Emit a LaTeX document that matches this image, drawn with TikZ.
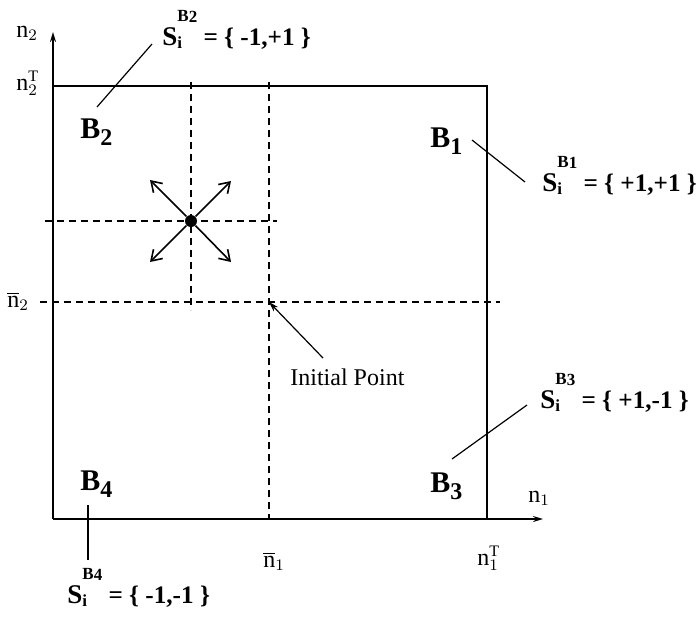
\documentclass[tikz,border=0pt]{standalone}
\usepackage{fontspec}
\setmainfont{Liberation Serif}
\usetikzlibrary{positioning,arrows.meta}

% sign vector S_i^{B_k} = {..}
\newcommand{\svec}[2]{{\fontsize{13.5}{14}\selectfont S}%
  \rlap{\fontsize{8.5}{9}\selectfont\raisebox{-1.5pt}{i}}%
  \raisebox{12pt}{\fontsize{8.5}{9}\selectfont B\raisebox{-0.8pt}{#1}}%
  {\fontsize{12.6}{13}\selectfont\ = \{ #2 \}}}
% region label B_k
\newcommand{\rlab}[1]{B\raisebox{-3.5pt}{\fontsize{12}{12}\selectfont #1}}

\begin{document}
\begin{tikzpicture}[x=0.5pt,y=-0.5pt,
    every node/.style={inner sep=0pt,anchor=base west,font=\fontsize{12}{13}\selectfont},
    axis/.style={line width=0.8pt,-{Stealth[length=5pt,width=3pt]}},
    frame/.style={line width=0.8pt},
    gline/.style={line width=0.6pt,dash pattern=on 3.5pt off 2.5pt},
    leader/.style={line width=0.6pt},
    move/.style={line width=0.8pt,-{Straight Barb[length=5pt,width=6.5pt]}},
    region/.style={font=\fontsize{15}{16}\selectfont\bfseries},
    sign/.style={font=\bfseries},
  ]
  \useasboundingbox (0,0) rectangle (696,617);

  % axes and the box
  \coordinate (O)  at (53,519);
  \coordinate (ye) at (53,32);
  \coordinate (xe) at (543,519);
  \coordinate (tl) at (53,86);
  \coordinate (tr) at (487,86);
  \coordinate (br) at (487,519);

  % dashed grid lines
  \draw[gline] (191,82) -- (191,310);
  \draw[gline] (269,82) -- (269,519);
  \draw[gline] (45,221) -- (277,221);
  \draw[gline] (40,302) -- (500,302);

  \draw[frame] (tl) -- (tr) -- (br);
  \draw[axis] (O) -- (ye);
  \draw[axis] (O) -- (xe);

  % axis labels
  \node (n2)  at (16,37)  {n$_2$};
  \node (n2T) at (16,90)  {n$_2^{\mathrm{T}}$};
  \node (n2b) at (7,307)  {$\overline{\mathrm{n}}_2$};
  \node (n1)  at (528,502) {n$_1$};
  \node (n1T) at (477,565) {n$_1^{\mathrm{T}}$};
  \node (n1b) at (263,567) {$\overline{\mathrm{n}}_1$};

  % region labels
  \node[region] (B2) at (80,138)  {\rlab{2}};
  \node[region] (B1) at (430,147) {\rlab{1}};
  \node[region] (B3) at (430,492) {\rlab{3}};
  \node[region] (B4) at (80,490)  {\rlab{4}};

  % sign vectors
  \node[sign] (S2) at (162,45)  {\svec{2}{-1,+1}};
  \node[sign] (S1) at (542,191) {\svec{1}{+1,+1}};
  \node[sign] (S3) at (540,408) {\svec{3}{+1,-1}};
  \node[sign] (S4) at (67,603)  {\svec{4}{-1,-1}};

  % leaders
  \coordinate (l2a) at (152,44);  \coordinate (l2b) at (97,107);
  \coordinate (l1a) at (472,140); \coordinate (l1b) at (525,182);
  \coordinate (l3a) at (527,405); \coordinate (l3b) at (452,459);
  \coordinate (l4a) at (88,505);  \coordinate (l4b) at (88,560);
  \draw[leader] (l2a) -- (l2b);
  \draw[leader] (l1a) -- (l1b);
  \draw[leader] (l3a) -- (l3b);
  \draw[leader] (l4a) -- (l4b);

  % current point and its moves
  \node[circle,fill,minimum size=6pt,anchor=center] (p) at (191,221) {};
  \coordinate (pNW) at (150,180);
  \coordinate (pNE) at (231,181);
  \coordinate (pSW) at (150,262);
  \coordinate (pSE) at (231,262);
  \foreach \d in {pNW,pNE,pSW,pSE}
    \draw[move] (p) -- (\d);

  % initial point
  \coordinate (init) at (269,302);
  \coordinate (ia) at (323,358);
  \draw[leader,-{Stealth[length=5pt,width=3pt]}] (ia) -- (init);
  \node (ip) at (290,385) {Initial Point};
\end{tikzpicture}
\end{document}
